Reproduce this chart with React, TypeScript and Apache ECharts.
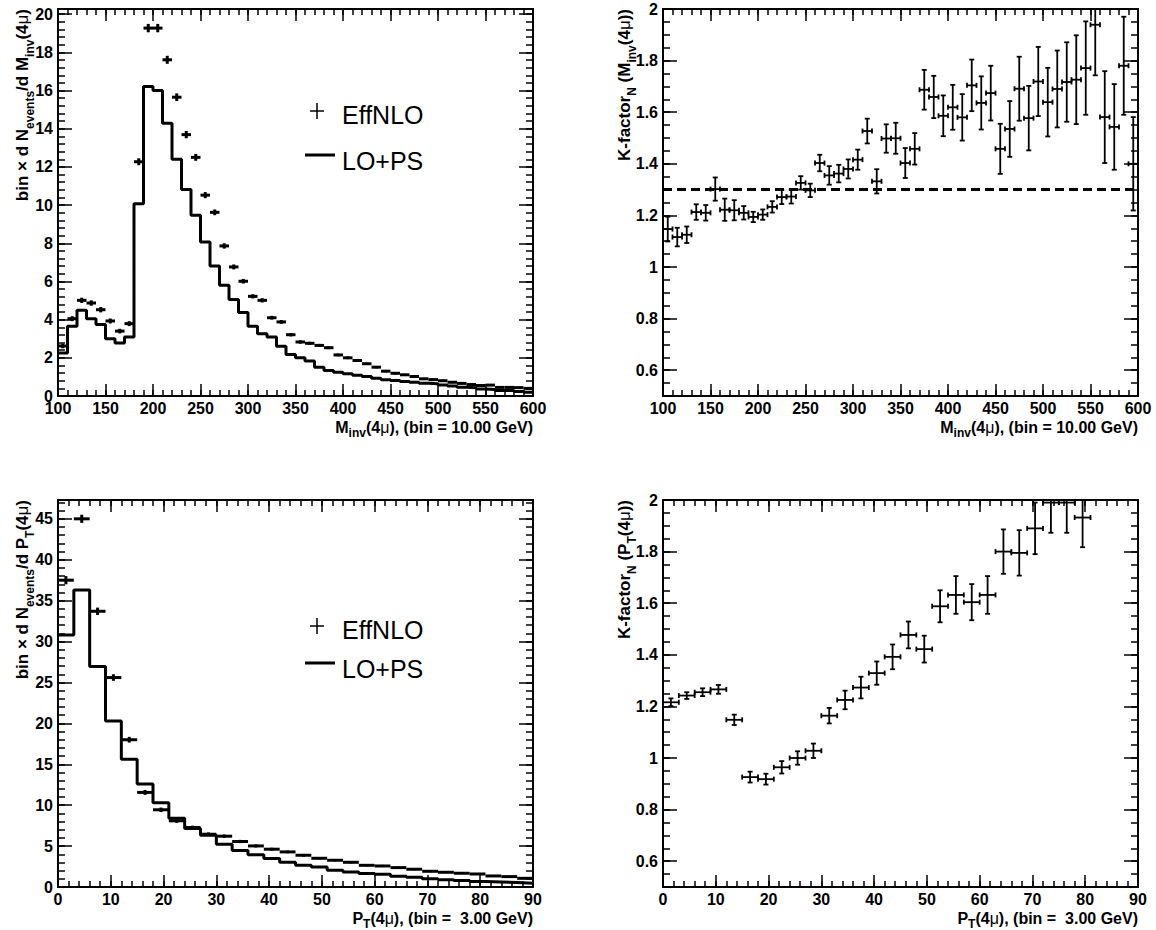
import React, { useEffect, useRef } from 'react';
import * as echarts from 'echarts';

// ---------------- Data ----------------
// Invariant-mass histograms (bin = 10 GeV)
const massHalfBin = 5;
const massCenters = [105, 115, 125, 135, 145, 155, 165, 175, 185, 195, 205, 215, 225, 235, 245, 255, 265, 275, 285, 295, 305, 315, 325, 335, 345, 355, 365, 375, 385, 395, 405, 415, 425, 435, 445, 455, 465, 475, 485, 495, 505, 515, 525, 535, 545, 555, 565, 575, 585, 595];
const effNLOMass = [2.62, 4.05, 5.01, 4.87, 4.52, 3.93, 3.40, 3.79, 12.27, 19.27, 19.27, 17.61, 15.65, 13.69, 12.50, 10.52, 9.62, 7.86, 6.76, 6.01, 5.22, 5.01, 4.10, 3.88, 3.21, 2.83, 2.76, 2.65, 2.53, 2.15, 2.00, 1.86, 1.69, 1.51, 1.30, 1.19, 1.11, 1.02, 0.90, 0.86, 0.80, 0.72, 0.66, 0.60, 0.55, 0.57, 0.45, 0.45, 0.44, 0.40];
const effNLOMassErr = [0.12, 0.13, 0.14, 0.14, 0.14, 0.13, 0.12, 0.13, 0.18, 0.22, 0.22, 0.21, 0.2, 0.19, 0.18, 0.16, 0.15, 0.14, 0.13, 0.12, 0.11, 0.11, 0.1, 0.1, 0.09, 0.09, 0.08, 0.08, 0.08, 0.07, 0.07, 0.07, 0.06, 0.06, 0.06, 0.06, 0.05, 0.05, 0.05, 0.05, 0.05, 0.05, 0.04, 0.04, 0.04, 0.04, 0.04, 0.04, 0.04, 0.04];
const loPSMass = [2.25, 3.65, 4.49, 4.05, 3.75, 3.00, 2.77, 3.09, 10.07, 16.21, 16.00, 14.29, 12.40, 10.82, 9.47, 8.07, 6.81, 5.80, 5.05, 4.37, 3.65, 3.26, 3.09, 2.60, 2.17, 2.00, 1.83, 1.51, 1.34, 1.25, 1.16, 1.09, 1.02, 0.93, 0.85, 0.81, 0.76, 0.72, 0.67, 0.64, 0.58, 0.53, 0.46, 0.43, 0.37, 0.34, 0.29, 0.29, 0.24, 0.20];
const kFactorMass = [1.147, 1.116, 1.125, 1.213, 1.21, 1.302, 1.222, 1.22, 1.21, 1.194, 1.203, 1.233, 1.271, 1.273, 1.326, 1.297, 1.403, 1.355, 1.362, 1.38, 1.416, 1.527, 1.332, 1.498, 1.499, 1.403, 1.458, 1.687, 1.659, 1.586, 1.619, 1.58, 1.704, 1.636, 1.674, 1.458, 1.535, 1.691, 1.577, 1.719, 1.639, 1.69, 1.717, 1.726, 1.771, 1.939, 1.581, 1.543, 1.78, 1.40];
const kFactorMassErr = [0.048, 0.036, 0.032, 0.03, 0.03, 0.045, 0.043, 0.039, 0.026, 0.02, 0.02, 0.022, 0.027, 0.027, 0.026, 0.026, 0.032, 0.036, 0.034, 0.037, 0.039, 0.048, 0.047, 0.055, 0.06, 0.058, 0.061, 0.077, 0.082, 0.079, 0.087, 0.09, 0.1, 0.103, 0.106, 0.097, 0.108, 0.124, 0.125, 0.134, 0.133, 0.149, 0.154, 0.172, 0.181, 0.196, 0.178, 0.166, 0.19, 0.181];
const kFactorRef = 1.3;

// Transverse-momentum histograms (bin = 3 GeV)
const ptHalfBin = 1.5;
const ptCenters = [1.5, 4.5, 7.5, 10.5, 13.5, 16.5, 19.5, 22.5, 25.5, 28.5, 31.5, 34.5, 37.5, 40.5, 43.5, 46.5, 49.5, 52.5, 55.5, 58.5, 61.5, 64.5, 67.5, 70.5, 73.5, 76.5, 79.5, 82.5, 85.5, 88.5];
const effNLOPt = [37.5, 45.0, 33.7, 25.6, 18.0, 11.56, 9.44, 8.09, 7.27, 6.45, 6.21, 5.56, 5.02, 4.62, 4.29, 3.88, 3.51, 3.27, 3.02, 2.65, 2.57, 2.37, 2.17, 1.92, 1.80, 1.68, 1.59, 1.35, 1.27, 1.06];
const effNLOPtErr = [0.5, 0.5, 0.45, 0.4, 0.35, 0.3, 0.27, 0.25, 0.23, 0.22, 0.21, 0.2, 0.19, 0.18, 0.17, 0.16, 0.15, 0.15, 0.14, 0.13, 0.13, 0.12, 0.12, 0.11, 0.11, 0.1, 0.1, 0.1, 0.09, 0.09];
const loPSPt = [30.8, 36.3, 26.96, 20.3, 15.6, 12.6, 10.3, 8.41, 7.15, 6.33, 5.23, 4.45, 3.95, 3.47, 3.02, 2.65, 2.45, 2.05, 1.83, 1.64, 1.55, 1.31, 1.2, 1.0, 0.9, 0.8, 0.68, 0.62, 0.55, 0.47];
const kPtCenters = [1.5, 4.5, 7.5, 10.5, 13.5, 16.5, 19.5, 22.5, 25.5, 28.5, 31.5, 34.5, 37.5, 40.5, 43.5, 46.5, 49.5, 52.5, 55.5, 58.5, 61.5, 64.5, 67.5, 70.5, 73.5, 76.5, 79.5];
const kFactorPt = [1.216, 1.242, 1.255, 1.266, 1.148, 0.926, 0.918, 0.964, 1.0, 1.028, 1.164, 1.225, 1.273, 1.329, 1.392, 1.477, 1.422, 1.588, 1.632, 1.604, 1.632, 1.80, 1.795, 1.89, 1.99, 1.99, 1.932];
const kFactorPtErr = [0.015, 0.013, 0.015, 0.017, 0.02, 0.021, 0.021, 0.024, 0.026, 0.028, 0.03, 0.036, 0.042, 0.045, 0.048, 0.052, 0.052, 0.062, 0.073, 0.07, 0.073, 0.086, 0.088, 0.1, 0.117, 0.117, 0.115];

// Axis tick labels
const kFactorTicks = [0.6, 0.8, 1, 1.2, 1.4, 1.6, 1.8, 2];

// ---------------- Styling helpers ----------------
const FONT = '"Liberation Sans", Arial, Helvetica, sans-serif';
const BLACK = '#000';

const grids = [
  { left: 58, top: 9, width: 475, height: 387 },
  { left: 663, top: 9, width: 475, height: 387 },
  { left: 58, top: 500, width: 475, height: 387 },
  { left: 663, top: 500, width: 475, height: 387 },
];

type AxisDef = { min: number; max: number; major: number; minor: number; custom?: number[] };

const labelStyle = { color: BLACK, fontFamily: FONT, fontWeight: 'bold' as const, fontSize: 16 };

function addAxes(xAxes: any[], yAxes: any[], gridIndex: number, xd: AxisDef, yd: AxisDef) {
  const xMain = xAxes.length;
  const base = { type: 'value', gridIndex, splitLine: { show: false } };
  const tick = (len: number) => ({ show: true, inside: true, length: len, lineStyle: { color: BLACK, width: 1.5 } });
  const line = { show: true, onZero: false, lineStyle: { color: BLACK, width: 2 } };
  const noLine = { show: false, onZero: false };
  const xMajor = (pos: string, labels: boolean) => ({
    ...base, position: pos, min: xd.min, max: xd.max, interval: xd.major,
    axisLine: line, axisTick: tick(12), z: 5,
    axisLabel: labels ? { show: true, margin: 4, ...labelStyle } : { show: false },
  });
  const xMinor = (pos: string) => ({
    ...base, position: pos, min: xd.min, max: xd.max, interval: xd.minor,
    axisLine: noLine, axisTick: tick(6), axisLabel: { show: false }, z: 4,
  });
  xAxes.push(xMajor('bottom', true), xMinor('bottom'), xMajor('top', false), xMinor('top'));

  const yMain = yAxes.length;
  const yMajor = (pos: string, labels: boolean) => {
    const a: any = {
      ...base, position: pos, min: yd.min, max: yd.max,
      axisLine: line, axisTick: tick(14), z: 5,
      axisLabel: labels ? { show: true, margin: 5, showMaxLabel: yd.custom ? true : false, ...labelStyle } : { show: false },
    };
    if (yd.custom) {
      a.axisTick = { ...a.axisTick, customValues: yd.custom };
      if (labels) a.axisLabel = { ...a.axisLabel, customValues: yd.custom };
    } else {
      a.interval = yd.major;
    }
    return a;
  };
  const yMinor = (pos: string) => ({
    ...base, position: pos, min: yd.min, max: yd.max, interval: yd.minor,
    axisLine: noLine, axisTick: tick(7), axisLabel: { show: false }, z: 4,
  });
  yAxes.push(yMajor('left', true), yMinor('left'), yMajor('right', false), yMinor('right'));
  return { xMain, yMain };
}

// Error-bar cross drawn through the axes' scales
function crossRenderer(halfWidth: number, lineWidth: number, cap: number) {
  return (params: any, api: any) => {
    const x = api.value(0) as number;
    const y = api.value(1) as number;
    const e = api.value(2) as number;
    const cs = params.coordSys;
    const top = cs.y;
    const bottom = cs.y + cs.height;
    const pl = api.coord([x - halfWidth, y]);
    const pr = api.coord([x + halfWidth, y]);
    const pt = api.coord([x, y + e]);
    const pb = api.coord([x, y - e]);
    const style = { stroke: BLACK, lineWidth, fill: null };
    const children: any[] = [];
    const clampY = (v: number) => Math.max(top, Math.min(bottom, v));
    if (pl[1] >= top - 0.5 && pl[1] <= bottom + 0.5) {
      children.push({ type: 'line', shape: { x1: pl[0], y1: pl[1], x2: pr[0], y2: pr[1] }, style });
      if (cap > 0) {
        children.push({ type: 'line', shape: { x1: pl[0], y1: pl[1] - cap, x2: pl[0], y2: pl[1] + cap }, style });
        children.push({ type: 'line', shape: { x1: pr[0], y1: pr[1] - cap, x2: pr[0], y2: pr[1] + cap }, style });
      }
    }
    const yt = clampY(pt[1]);
    const yb = clampY(pb[1]);
    if (yb > yt) {
      children.push({ type: 'line', shape: { x1: pt[0], y1: yt, x2: pb[0], y2: yb }, style });
    }
    if (cap > 0) {
      if (pt[1] >= top) children.push({ type: 'line', shape: { x1: pt[0] - cap, y1: pt[1], x2: pt[0] + cap, y2: pt[1] }, style });
      if (pb[1] <= bottom) children.push({ type: 'line', shape: { x1: pb[0] - cap, y1: pb[1], x2: pb[0] + cap, y2: pb[1] }, style });
    }
    return { type: 'group', children };
  };
}

function stepData(centers: number[], values: number[], half: number) {
  const pts = values.map((v, i) => [centers[i] - half, v]);
  pts.push([centers[centers.length - 1] + half, values[values.length - 1]]);
  return pts;
}

const richStyles = {
  sub: { fontSize: 12, fontWeight: 'bold', fontFamily: FONT, lineHeight: 12, verticalAlign: 'bottom', fill: BLACK },
  mu: { fontSize: 17, fontWeight: 'normal', fontFamily: FONT, fill: BLACK },
};

function yTitle(x: number, y: number, text: string) {
  return {
    type: 'text', x, y, rotation: Math.PI / 2, z: 10,
    style: {
      text, fill: BLACK, fontSize: 17, fontWeight: 'bold', fontFamily: FONT,
      align: 'right', verticalAlign: 'middle', lineHeight: 28, rich: richStyles,
    },
  };
}

function xTitle(x: number, y: number, text: string) {
  return {
    type: 'text', x, y, z: 10,
    style: {
      text, fill: BLACK, fontSize: 16, fontWeight: 'bold', fontFamily: FONT,
      align: 'right', verticalAlign: 'middle', lineHeight: 24,
      rich: { ...richStyles, mu: { ...richStyles.mu, fontSize: 16 } },
    },
  };
}

function legend(x: number, y1: number, y2: number) {
  return [
    { type: 'line', shape: { x1: x - 7, y1: y1, x2: x + 7, y2: y1 }, style: { stroke: BLACK, lineWidth: 1.5 } },
    { type: 'line', shape: { x1: x, y1: y1 - 8, x2: x, y2: y1 + 8 }, style: { stroke: BLACK, lineWidth: 1.5 } },
    { type: 'text', x: x + 25, y: y1 + 4, style: { text: 'EffNLO', fill: BLACK, fontSize: 25, fontFamily: FONT, align: 'left', verticalAlign: 'middle' } },
    { type: 'line', shape: { x1: x - 12, y1: y2, x2: x + 18, y2: y2 }, style: { stroke: BLACK, lineWidth: 3 } },
    { type: 'text', x: x + 25, y: y2 + 6, style: { text: 'LO+PS', fill: BLACK, fontSize: 25, fontFamily: FONT, align: 'left', verticalAlign: 'middle' } },
  ];
}

function buildOption() {
  const xAxes: any[] = [];
  const yAxes: any[] = [];
  const a0 = addAxes(xAxes, yAxes, 0, { min: 100, max: 600, major: 50, minor: 10 }, { min: 0, max: 20.27, major: 2, minor: 0.4 });
  const a1 = addAxes(xAxes, yAxes, 1, { min: 100, max: 600, major: 50, minor: 10 }, { min: 0.5, max: 2, major: 0.2, minor: 0.05, custom: kFactorTicks });
  const a2 = addAxes(xAxes, yAxes, 2, { min: 0, max: 90, major: 10, minor: 2 }, { min: 0, max: 47.3, major: 5, minor: 1 });
  const a3 = addAxes(xAxes, yAxes, 3, { min: 0, max: 90, major: 10, minor: 2 }, { min: 0.5, max: 2, major: 0.2, minor: 0.05, custom: kFactorTicks });

  const series: any[] = [
    {
      name: 'EffNLO', type: 'custom', xAxisIndex: a0.xMain, yAxisIndex: a0.yMain,
      renderItem: crossRenderer(massHalfBin, 3, 0), encode: { x: 0, y: 1 },
      data: massCenters.map((c, i) => [c, effNLOMass[i], effNLOMassErr[i]]), z: 3,
    },
    {
      name: 'LO+PS', type: 'line', xAxisIndex: a0.xMain, yAxisIndex: a0.yMain, step: 'end',
      symbol: 'none', lineStyle: { color: BLACK, width: 3 }, data: stepData(massCenters, loPSMass, massHalfBin), z: 2,
    },
    {
      name: 'K-factor (Minv)', type: 'custom', xAxisIndex: a1.xMain, yAxisIndex: a1.yMain,
      renderItem: crossRenderer(massHalfBin, 1.8, 2.5), encode: { x: 0, y: 1 },
      data: massCenters.map((c, i) => [c, kFactorMass[i], kFactorMassErr[i]]), z: 3,
    },
    {
      name: 'K = 1.3', type: 'line', xAxisIndex: a1.xMain, yAxisIndex: a1.yMain, symbol: 'none',
      lineStyle: { color: BLACK, width: 3, type: [9, 5] },
      data: [[100, kFactorRef], [600, kFactorRef]], z: 2,
    },
    {
      name: 'EffNLO pT', type: 'custom', xAxisIndex: a2.xMain, yAxisIndex: a2.yMain,
      renderItem: crossRenderer(ptHalfBin, 3, 0), encode: { x: 0, y: 1 },
      data: ptCenters.map((c, i) => [c, effNLOPt[i], effNLOPtErr[i]]), z: 3,
    },
    {
      name: 'LO+PS pT', type: 'line', xAxisIndex: a2.xMain, yAxisIndex: a2.yMain, step: 'end',
      symbol: 'none', lineStyle: { color: BLACK, width: 3 }, data: stepData(ptCenters, loPSPt, ptHalfBin), z: 2,
    },
    {
      name: 'K-factor (pT)', type: 'custom', xAxisIndex: a3.xMain, yAxisIndex: a3.yMain,
      renderItem: crossRenderer(ptHalfBin, 1.8, 2.5), encode: { x: 0, y: 1 },
      data: kPtCenters.map((c, i) => [c, kFactorPt[i], kFactorPtErr[i]]), z: 3,
    },
  ];

  const graphic: any[] = [
    yTitle(22, 9, 'bin × d N{sub|events}/d M{sub|inv}(4{mu|μ})'),
    yTitle(624, 9, 'K-factor{sub|N} (M{sub|inv}(4{mu|μ}))'),
    yTitle(22, 500, 'bin × d N{sub|events}/d P{sub|T}(4{mu|μ})'),
    yTitle(624, 500, 'K-factor{sub|N} (P{sub|T}(4{mu|μ}))'),
    xTitle(533, 427, 'M{sub|inv}(4{mu|μ}), (bin = 10.00 GeV)'),
    xTitle(1138, 427, 'M{sub|inv}(4{mu|μ}), (bin = 10.00 GeV)'),
    xTitle(533, 918, 'P{sub|T}(4{mu|μ}), (bin =  3.00 GeV)'),
    xTitle(1138, 918, 'P{sub|T}(4{mu|μ}), (bin =  3.00 GeV)'),
    ...legend(317, 111, 155),
    ...legend(317, 626, 663),
  ];

  return {
    animation: false,
    backgroundColor: '#fff',
    grid: grids.map((g) => ({ ...g, containLabel: false })),
    xAxis: xAxes,
    yAxis: yAxes,
    series,
    graphic,
  };
}

export default function App() {
  const ref = useRef<HTMLDivElement>(null);
  useEffect(() => {
    if (!ref.current) return;
    const chart = echarts.init(ref.current, undefined, { renderer: 'svg' });
    chart.setOption(buildOption() as any);
    return () => chart.dispose();
  }, []);
  return (
    <div
      ref={ref}
      style={{ position: 'fixed', left: 0, top: 0, width: 1156, height: 930, background: '#fff' }}
    />
  );
}
